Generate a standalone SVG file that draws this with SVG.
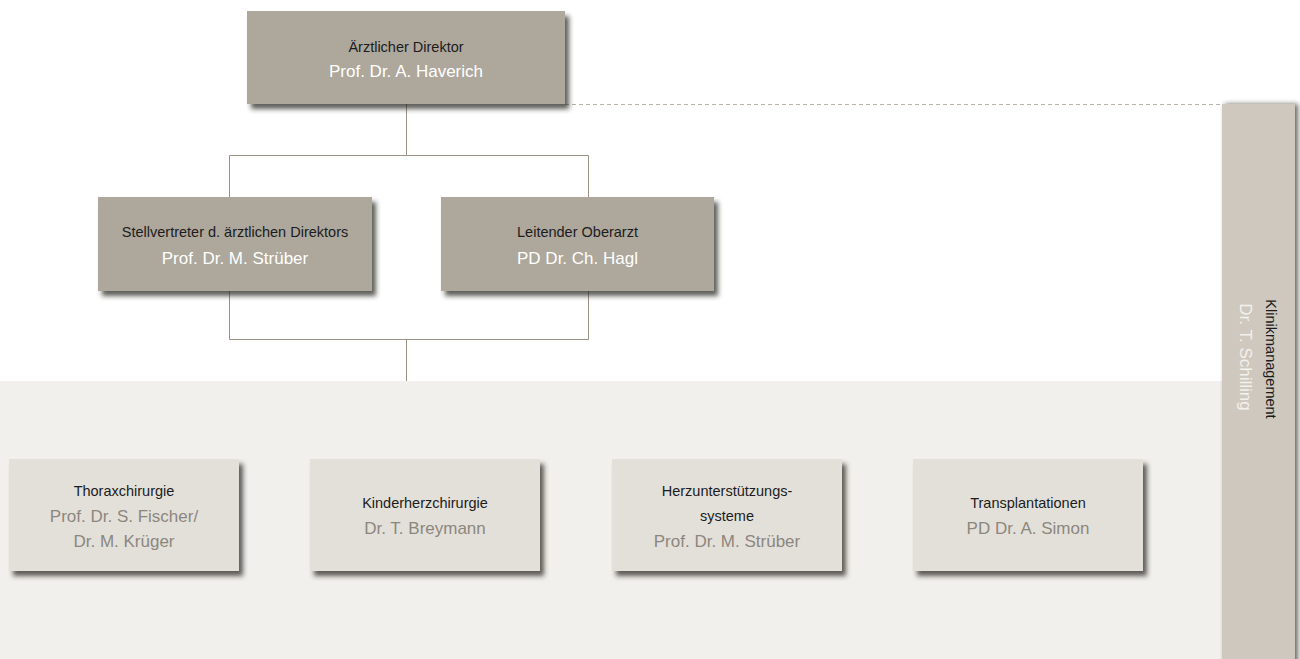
<svg xmlns="http://www.w3.org/2000/svg" width="1300" height="659" viewBox="0 0 1300 659">
<defs>
<filter id="sh" x="-10%" y="-20%" width="125%" height="150%">
<feDropShadow dx="4" dy="5" stdDeviation="2.5" flood-color="#2a2620" flood-opacity="0.75"/>
</filter>
<filter id="shc" x="-20%" y="-5%" width="150%" height="110%">
<feDropShadow dx="3" dy="0" stdDeviation="2.5" flood-color="#2a2620" flood-opacity="0.7"/>
</filter>
<style>
text{font-family:"Liberation Sans",Arial,sans-serif;text-anchor:middle}
.dark{fill:#ada79c}
.light{fill:#e3e0da}
.t{font-size:14.5px;fill:#1c1c1c}
.n{font-size:17px;fill:#ffffff}
.nl{font-size:17px;fill:#8c877e}
.con{stroke:#9a9283;stroke-width:1;fill:none}
</style>
</defs>
<rect x="0" y="0" width="1300" height="659" fill="#ffffff"/>
<rect x="0" y="381" width="1222" height="278" fill="#f2f0ed"/>

<g id="connectors">
<path class="con" d="M406.5 104 V155.5 H229.5 V197 M406.5 155.5 H588.5 V197"/>
<path class="con" d="M229.5 291 V339.5 H588.5 V291 M406.5 339.5 V381"/>
<line x1="565" y1="104.5" x2="1222" y2="104.5" stroke="#b9b2a7" stroke-width="1" stroke-dasharray="4 3"/>
</g>

<g id="klinikmanagement">
<rect x="1222" y="104" width="73" height="560" fill="#cfc8bf" filter="url(#shc)"/>
<text class="t" transform="translate(1266,359) rotate(90)" x="0" y="0">Klinikmanagement</text>
<text class="n" transform="translate(1240,357) rotate(90)" x="0" y="0" style="fill:#f3f1ed">Dr. T. Schilling</text>
</g>

<g id="direktor">
<rect class="dark" x="247" y="11" width="318" height="93" filter="url(#sh)"/>
<text class="t" x="406" y="52">Ärztlicher Direktor</text>
<text class="n" x="406" y="77">Prof. Dr. A. Haverich</text>
</g>

<g id="stellvertreter">
<rect class="dark" x="98" y="197" width="274" height="94" filter="url(#sh)"/>
<text class="t" x="235" y="237">Stellvertreter d. ärztlichen Direktors</text>
<text class="n" x="235" y="264">Prof. Dr. M. Strüber</text>
</g>

<g id="oberarzt">
<rect class="dark" x="441" y="197" width="273" height="94" filter="url(#sh)"/>
<text class="t" x="577.5" y="237">Leitender Oberarzt</text>
<text class="n" x="577.5" y="264">PD Dr. Ch. Hagl</text>
</g>

<g id="thorax">
<rect class="light" x="9" y="459" width="230" height="112" filter="url(#sh)"/>
<text class="t" x="124" y="496">Thoraxchirurgie</text>
<text class="nl" x="124" y="522">Prof. Dr. S. Fischer/</text>
<text class="nl" x="124" y="547">Dr. M. Krüger</text>
</g>

<g id="kinderherz">
<rect class="light" x="310" y="459" width="230" height="112" filter="url(#sh)"/>
<text class="t" x="425" y="508">Kinderherzchirurgie</text>
<text class="nl" x="425" y="534">Dr. T. Breymann</text>
</g>

<g id="herzunterstuetzung">
<rect class="light" x="612" y="459" width="230" height="112" filter="url(#sh)"/>
<text class="t" x="727" y="496">Herzunterstützungs-</text>
<text class="t" x="727" y="521">systeme</text>
<text class="nl" x="727" y="547">Prof. Dr. M. Strüber</text>
</g>

<g id="transplantation">
<rect class="light" x="913" y="459" width="230" height="112" filter="url(#sh)"/>
<text class="t" x="1028" y="508">Transplantationen</text>
<text class="nl" x="1028" y="534">PD Dr. A. Simon</text>
</g>
</svg>
